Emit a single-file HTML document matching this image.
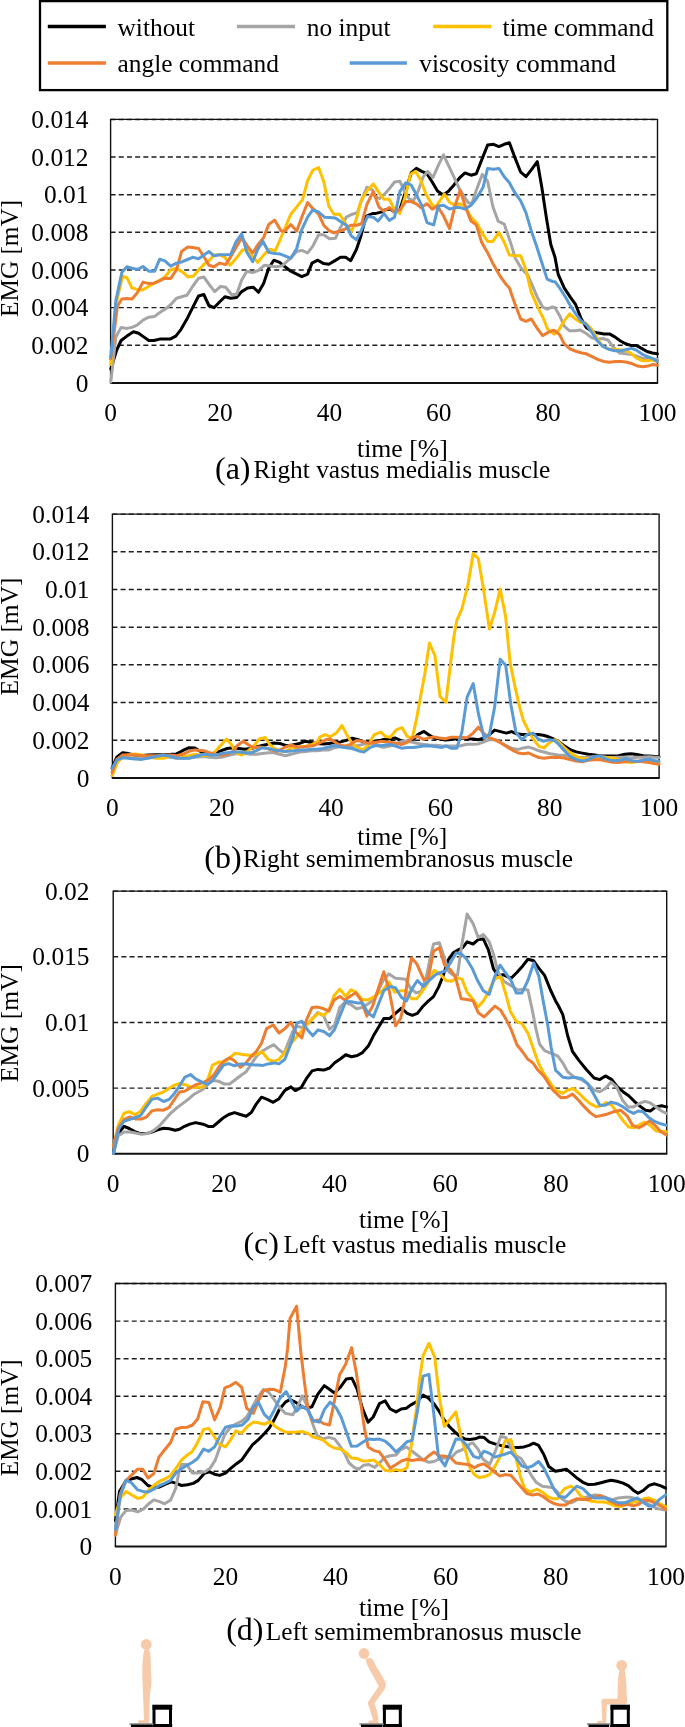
<!DOCTYPE html>
<html><head><meta charset="utf-8"><style>
html,body{margin:0;padding:0;background:#fff;}
svg{display:block;will-change:transform;}
svg text{font-family:"Liberation Serif", serif;font-size:25.4px;fill:#000;}
</style></head><body>
<svg width="685" height="1727" viewBox="0 0 685 1727">
<rect width="685" height="1727" fill="#fff"/>
<rect x="40" y="1.1" width="627.3" height="89" fill="none" stroke="#000" stroke-width="2.3"/>
<line x1="47.8" y1="26.5" x2="105.9" y2="26.5" stroke="#000000" stroke-width="3.5"/>
<text x="117.5" y="35.9">without</text>
<line x1="237" y1="26.5" x2="295" y2="26.5" stroke="#A5A5A5" stroke-width="3.5"/>
<text x="306.7" y="35.9">no input</text>
<line x1="433.2" y1="26.5" x2="491.4" y2="26.5" stroke="#FFC000" stroke-width="3.5"/>
<text x="502.4" y="35.9">time command</text>
<line x1="47.8" y1="63" x2="105.9" y2="63" stroke="#ED7D31" stroke-width="3.5"/>
<text x="117.5" y="71.5">angle command</text>
<line x1="349.7" y1="63" x2="406.9" y2="63" stroke="#5B9BD5" stroke-width="3.5"/>
<text x="419.2" y="71.5">viscosity command</text>
<line x1="110.6" y1="345.2" x2="657.5" y2="345.2" stroke="#1e1e1e" stroke-width="1.45" stroke-dasharray="5 3.18"/>
<line x1="110.6" y1="307.6" x2="657.5" y2="307.6" stroke="#1e1e1e" stroke-width="1.45" stroke-dasharray="5 3.18"/>
<line x1="110.6" y1="269.9" x2="657.5" y2="269.9" stroke="#1e1e1e" stroke-width="1.45" stroke-dasharray="5 3.18"/>
<line x1="110.6" y1="232.3" x2="657.5" y2="232.3" stroke="#1e1e1e" stroke-width="1.45" stroke-dasharray="5 3.18"/>
<line x1="110.6" y1="194.7" x2="657.5" y2="194.7" stroke="#1e1e1e" stroke-width="1.45" stroke-dasharray="5 3.18"/>
<line x1="110.6" y1="157.0" x2="657.5" y2="157.0" stroke="#1e1e1e" stroke-width="1.45" stroke-dasharray="5 3.18"/>
<line x1="110.6" y1="119.4" x2="657.5" y2="119.4" stroke="#1e1e1e" stroke-width="1.45" stroke-dasharray="5 3.18"/>
<path d="M110.6 382.9 V119.4 H657.5 V382.9" fill="none" stroke="#111" stroke-width="1.4"/>
<line x1="110.0" y1="382.9" x2="658.1" y2="382.9" stroke="#111" stroke-width="2"/>
<text x="88.5" y="391.5" text-anchor="end">0</text>
<text x="88.5" y="353.8" text-anchor="end">0.002</text>
<text x="88.5" y="316.2" text-anchor="end">0.004</text>
<text x="88.5" y="278.5" text-anchor="end">0.006</text>
<text x="88.5" y="240.9" text-anchor="end">0.008</text>
<text x="88.5" y="203.3" text-anchor="end">0.01</text>
<text x="88.5" y="165.6" text-anchor="end">0.012</text>
<text x="88.5" y="128.0" text-anchor="end">0.014</text>
<text x="110.6" y="421.2" text-anchor="middle">0</text>
<text x="220.0" y="421.2" text-anchor="middle">20</text>
<text x="329.4" y="421.2" text-anchor="middle">40</text>
<text x="438.7" y="421.2" text-anchor="middle">60</text>
<text x="548.1" y="421.2" text-anchor="middle">80</text>
<text x="657.5" y="421.2" text-anchor="middle">100</text>
<text transform="translate(17.5,258.4) rotate(-90)" text-anchor="middle" textLength="117.0" lengthAdjust="spacingAndGlyphs">EMG [mV]</text>
<g fill="none" stroke-width="3" stroke-linejoin="round" stroke-linecap="round">
<polyline stroke="#000000" points="110.8,369.0 116.7,350.0 121.1,340.5 126.9,336.1 133.5,331.8 138.6,333.2 143.7,336.9 148.8,340.5 153.9,340.5 159.7,339.1 164.9,339.1 170.0,339.1 175.8,336.1 180.9,329.6 186.8,319.3 192.6,307.7 198.6,296.0 203.8,294.5 208.9,305.5 214.0,307.7 219.8,301.8 224.9,296.7 230.8,298.2 236.6,297.4 241.7,291.6 247.6,288.0 253.4,287.2 258.5,292.3 263.6,283.6 268.7,268.2 273.8,260.2 279.7,262.4 285.0,266.8 290.8,271.2 296.7,274.1 301.8,276.7 307.6,274.1 312.0,263.1 317.8,260.2 323.7,263.6 328.8,264.3 334.6,260.9 340.5,257.3 345.6,257.3 350.7,260.7 356.5,249.3 360.9,236.1 366.0,216.4 372.6,213.5 375.0,213.6 381.0,212.1 385.5,209.8 390.1,209.1 394.6,212.1 399.8,209.8 405.1,193.3 411.1,172.9 416.4,168.4 421.7,171.4 427.0,173.7 432.2,182.0 437.5,191.0 442.8,194.8 448.0,191.7 453.3,185.7 459.3,178.2 465.0,172.9 471.0,175.2 476.3,173.7 481.6,160.1 487.6,145.1 493.6,144.3 498.9,146.6 504.2,144.3 509.4,142.8 514.7,157.1 520.7,172.2 526.0,176.7 531.3,169.9 537.3,161.6 541.8,187.2 546.3,217.3 550.8,244.5 555.0,257.2 558.1,274.1 564.2,287.9 570.3,297.1 575.7,304.7 581.1,318.5 586.4,327.7 592.6,331.6 598.7,333.1 604.0,333.9 609.4,333.9 614.8,336.9 620.1,340.8 625.5,343.8 630.9,345.4 636.2,345.4 641.6,348.4 647.0,351.5 652.3,353.0 657.4,353.8"/>
<polyline stroke="#A5A5A5" points="110.8,382.1 115.9,336.9 121.1,327.4 126.9,328.4 132.0,327.4 137.1,325.2 143.0,320.1 148.8,317.2 154.6,316.4 160.5,312.0 166.3,308.4 171.4,304.0 176.5,298.2 181.6,296.7 186.8,295.3 192.6,286.5 198.6,278.2 203.8,277.0 209.6,285.0 214.7,291.6 220.5,286.5 225.7,287.2 231.5,294.5 236.6,294.5 241.7,279.9 246.8,271.2 252.7,272.6 258.5,270.4 264.3,265.3 270.2,266.1 276.0,266.8 281.9,266.1 285.0,263.1 290.8,258.0 296.7,251.5 301.8,250.4 307.6,252.9 312.7,246.4 318.6,234.7 323.7,234.7 329.5,238.8 335.4,238.3 340.5,227.4 346.3,217.2 352.2,214.2 357.3,212.8 362.4,198.2 366.8,187.2 372.6,190.1 375.0,196.3 379.5,198.5 384.0,194.8 389.3,188.7 394.6,182.0 399.8,181.2 405.1,191.7 408.9,198.5 413.4,200.8 417.9,191.7 423.2,176.7 427.7,171.4 433.0,177.4 438.3,165.4 443.5,154.8 448.8,166.1 454.1,177.4 459.3,188.7 465.0,197.8 468.0,202.3 471.8,203.8 476.3,190.2 482.3,174.4 487.6,181.2 492.9,206.8 498.1,221.1 504.2,224.1 510.2,241.4 515.5,258.8 521.5,268.6 527.5,274.6 532.8,286.6 537.3,297.2 542.6,307.0 547.1,309.2 552.3,307.0 555.0,307.8 559.6,315.5 564.2,326.2 569.6,330.8 574.9,330.8 580.3,330.0 585.7,333.1 591.8,337.7 597.2,339.2 602.5,338.5 607.9,340.0 613.2,346.9 619.4,353.0 625.5,353.8 631.6,354.6 637.0,356.1 642.4,358.4 647.7,358.4 653.1,359.2 657.4,359.2"/>
<polyline stroke="#FFC000" points="110.8,364.6 115.9,304.7 122.5,276.3 126.9,277.7 132.0,288.0 137.1,289.4 142.2,290.1 147.3,287.2 153.2,283.6 159.0,280.7 164.9,277.0 170.7,269.7 176.5,268.2 182.4,271.9 188.2,277.0 193.3,276.3 199.4,269.0 204.5,263.9 209.6,260.2 214.0,255.1 219.8,254.8 224.9,257.3 230.0,265.3 235.9,258.8 242.4,250.0 246.8,249.3 252.7,256.6 257.8,262.4 263.6,255.1 269.5,249.3 275.3,250.7 279.7,240.5 285.0,228.1 290.8,214.2 296.7,206.9 302.5,199.6 307.6,180.7 312.7,170.4 318.6,167.5 323.7,181.4 328.8,206.2 333.9,214.2 339.7,214.2 345.6,223.7 351.4,231.8 356.5,218.6 360.9,201.1 366.8,190.9 373.3,183.9 379.5,193.3 384.0,199.3 389.3,199.3 394.6,209.8 399.8,213.6 405.1,197.0 410.4,174.4 415.7,171.4 420.9,180.5 426.2,194.8 431.5,203.8 435.2,207.6 439.8,200.8 444.3,194.0 449.5,202.3 454.8,205.3 460.1,203.8 465.0,206.8 471.0,217.3 477.0,223.4 482.3,233.2 487.6,241.4 492.9,241.4 498.9,232.4 504.2,242.2 509.4,255.0 514.7,255.8 520.7,255.8 526.0,270.1 531.3,292.7 538.0,307.7 543.3,318.3 547.8,329.5 554.4,334.3 558.8,330.0 564.2,320.8 569.6,313.9 574.9,318.5 580.3,322.4 585.7,323.1 591.8,329.3 597.2,338.5 602.5,346.1 608.6,349.2 614.8,349.2 620.9,350.0 626.3,350.7 631.6,353.8 637.0,358.4 642.4,360.7 647.7,360.7 653.1,359.9 657.4,361.5"/>
<polyline stroke="#ED7D31" points="110.8,358.8 117.4,306.2 121.8,298.9 126.9,298.6 132.0,298.9 137.1,293.1 143.0,282.1 148.8,283.6 153.2,283.6 159.0,281.1 164.9,278.2 170.7,278.5 176.5,269.7 181.6,251.5 187.5,247.1 192.6,247.5 198.6,248.5 203.8,256.6 208.9,265.3 214.0,266.8 219.8,263.1 225.7,264.6 230.8,256.6 236.6,246.4 241.7,237.6 247.6,246.4 252.7,252.9 257.8,244.9 263.6,237.6 268.7,224.5 274.6,220.1 281.1,231.0 285.0,231.0 290.8,224.5 296.7,231.0 301.8,217.2 307.6,202.6 312.7,208.4 318.6,214.2 323.7,225.2 328.8,230.3 333.9,232.9 339.7,231.0 345.6,228.8 350.7,225.2 356.5,225.2 361.6,223.7 366.8,204.7 373.3,191.6 378.8,206.8 384.0,211.3 389.3,207.6 394.6,212.1 399.8,209.8 405.9,201.5 411.1,201.5 416.4,203.8 420.9,207.6 427.0,203.8 432.2,209.1 437.5,206.1 443.5,215.8 449.5,228.6 454.8,206.8 460.1,190.2 465.0,205.3 468.0,213.6 471.0,221.1 476.3,224.9 481.6,242.2 487.6,252.7 493.6,264.8 499.6,275.3 504.9,282.9 509.4,288.1 514.7,303.2 520.7,319.0 526.0,321.3 531.3,319.0 536.5,327.3 542.6,335.6 547.8,332.6 553.1,330.3 555.0,330.8 559.6,334.6 564.2,343.8 570.3,349.2 576.5,351.5 581.8,353.0 586.4,353.8 592.6,356.9 598.7,359.9 604.0,361.5 609.4,362.2 615.5,361.5 621.7,361.5 627.0,362.2 632.4,363.8 637.8,366.1 642.4,366.8 647.7,366.1 653.1,364.5 657.4,365.3"/>
<polyline stroke="#5B9BD5" points="110.8,357.3 115.9,300.4 121.8,272.6 126.9,266.8 132.0,268.2 137.8,269.4 143.0,266.5 148.8,271.2 154.6,271.2 159.7,259.2 164.9,260.9 170.7,266.1 176.5,263.1 182.4,261.7 187.5,259.5 192.6,257.3 198.6,258.8 203.8,255.1 208.9,251.5 214.0,255.8 219.8,254.8 224.9,254.7 230.8,254.4 235.9,242.0 241.7,233.9 246.8,252.2 252.7,261.7 257.8,249.3 262.9,241.2 268.7,252.2 274.6,253.6 280.4,254.1 285.0,255.8 290.8,258.3 296.7,248.5 301.8,229.6 307.6,217.2 312.7,209.9 318.6,212.0 324.4,217.2 329.5,217.4 335.4,217.9 340.5,221.5 346.3,225.2 351.4,236.1 356.5,239.8 361.6,229.6 367.5,216.4 373.3,217.2 378.0,221.1 384.0,213.6 389.3,220.4 394.6,217.3 399.8,191.7 405.9,182.7 411.1,185.0 415.7,193.3 421.7,205.3 427.0,222.6 433.7,224.9 438.3,206.1 443.5,205.3 449.5,209.1 454.8,207.6 460.1,207.6 465.0,209.1 471.0,205.3 477.0,197.8 483.1,187.2 487.6,168.4 493.6,169.2 498.9,168.4 504.2,176.7 509.4,182.7 514.7,192.5 520.7,200.8 526.0,212.8 531.3,230.9 536.5,246.0 541.8,262.5 547.1,279.1 552.3,281.4 555.0,281.7 559.6,287.9 565.0,296.3 570.3,305.5 575.7,313.9 581.1,320.8 586.4,324.7 591.8,332.3 597.2,340.8 602.5,346.1 608.6,349.2 614.8,350.7 620.9,350.7 626.3,349.5 631.6,348.4 636.2,350.0 641.6,353.8 647.0,356.5 652.3,358.4 657.4,361.5"/>
</g>
<text x="357.0" y="457.3" textLength="90.7" lengthAdjust="spacingAndGlyphs">time [%]</text>
<text x="215.0" y="478.7" style="font-size:32px">(a)</text>
<text x="253.4" y="478.4">Right vastus medialis muscle</text>
<line x1="112.4" y1="740.2" x2="659.1" y2="740.2" stroke="#1e1e1e" stroke-width="1.45" stroke-dasharray="5 3.18"/>
<line x1="112.4" y1="702.5" x2="659.1" y2="702.5" stroke="#1e1e1e" stroke-width="1.45" stroke-dasharray="5 3.18"/>
<line x1="112.4" y1="664.8" x2="659.1" y2="664.8" stroke="#1e1e1e" stroke-width="1.45" stroke-dasharray="5 3.18"/>
<line x1="112.4" y1="627.2" x2="659.1" y2="627.2" stroke="#1e1e1e" stroke-width="1.45" stroke-dasharray="5 3.18"/>
<line x1="112.4" y1="589.5" x2="659.1" y2="589.5" stroke="#1e1e1e" stroke-width="1.45" stroke-dasharray="5 3.18"/>
<line x1="112.4" y1="551.8" x2="659.1" y2="551.8" stroke="#1e1e1e" stroke-width="1.45" stroke-dasharray="5 3.18"/>
<line x1="112.4" y1="514.1" x2="659.1" y2="514.1" stroke="#1e1e1e" stroke-width="1.45" stroke-dasharray="5 3.18"/>
<path d="M112.4 777.9 V514.1 H659.1 V777.9" fill="none" stroke="#111" stroke-width="1.4"/>
<line x1="111.8" y1="777.9" x2="659.7" y2="777.9" stroke="#111" stroke-width="2"/>
<text x="89.5" y="786.5" text-anchor="end">0</text>
<text x="89.5" y="748.8" text-anchor="end">0.002</text>
<text x="89.5" y="711.1" text-anchor="end">0.004</text>
<text x="89.5" y="673.4" text-anchor="end">0.006</text>
<text x="89.5" y="635.8" text-anchor="end">0.008</text>
<text x="89.5" y="598.1" text-anchor="end">0.01</text>
<text x="89.5" y="560.4" text-anchor="end">0.012</text>
<text x="89.5" y="522.7" text-anchor="end">0.014</text>
<text x="112.4" y="815.7" text-anchor="middle">0</text>
<text x="221.7" y="815.7" text-anchor="middle">20</text>
<text x="331.1" y="815.7" text-anchor="middle">40</text>
<text x="440.4" y="815.7" text-anchor="middle">60</text>
<text x="549.8" y="815.7" text-anchor="middle">80</text>
<text x="659.1" y="815.7" text-anchor="middle">100</text>
<text transform="translate(17.5,636.5) rotate(-90)" text-anchor="middle" textLength="117.9" lengthAdjust="spacingAndGlyphs">EMG [mV]</text>
<g fill="none" stroke-width="3" stroke-linejoin="round" stroke-linecap="round">
<polyline stroke="#000000" points="112.1,768.2 116.8,757.2 122.6,752.8 128.4,753.6 135.0,755.0 141.6,755.5 148.9,755.0 156.2,754.7 163.5,754.6 170.8,754.3 176.6,753.9 182.5,750.7 189.0,747.7 194.9,748.0 203.8,753.6 209.7,754.3 215.5,752.8 221.4,750.7 227.2,748.5 233.0,747.7 238.9,748.5 244.7,749.2 250.6,748.5 256.4,747.0 262.2,745.5 268.1,744.1 273.9,743.1 279.8,743.4 285.6,745.5 290.9,745.5 293.8,744.8 299.7,743.4 305.5,741.2 311.4,742.6 317.2,743.4 323.0,744.1 328.9,743.4 334.7,742.6 340.6,741.9 346.4,740.4 352.2,738.2 358.1,739.7 363.9,741.9 369.8,742.6 375.6,741.2 380.9,740.1 383.8,739.4 389.7,738.7 395.5,738.0 401.4,740.9 407.2,741.6 413.0,740.1 418.1,734.3 424.0,731.4 429.1,735.0 434.2,738.0 439.3,738.7 445.2,740.1 451.0,739.4 456.8,738.7 462.7,738.0 467.5,738.8 473.2,739.0 478.3,739.7 483.5,738.3 489.4,734.6 494.6,730.1 500.5,731.6 506.4,733.1 511.6,731.6 516.7,733.8 521.9,734.6 527.1,734.6 533.0,734.6 538.2,734.6 543.3,735.3 548.5,736.8 553.7,739.0 558.0,741.3 564.1,745.8 570.1,749.6 576.2,751.9 582.3,753.1 588.4,754.2 594.4,754.9 600.5,755.7 606.6,756.1 612.7,756.1 618.7,755.7 624.8,754.2 630.9,753.7 636.9,754.6 643.0,755.7 649.1,756.1 655.2,756.4 659.0,756.7"/>
<polyline stroke="#A5A5A5" points="112.1,775.5 116.8,762.3 122.6,757.2 128.4,757.7 135.0,758.2 141.6,758.2 148.9,757.7 156.2,757.2 163.5,756.5 170.8,757.2 176.6,758.2 182.5,758.2 189.0,758.0 194.9,757.2 203.8,756.5 209.7,757.2 215.5,757.7 221.4,757.2 227.2,755.8 233.0,754.3 238.9,753.6 244.7,753.6 250.6,754.3 256.4,754.3 262.2,753.6 268.1,752.8 273.9,752.8 279.8,754.3 285.6,755.8 290.9,754.3 293.8,753.6 299.7,752.1 305.5,751.4 311.4,750.7 317.2,750.7 323.0,749.9 328.9,749.9 334.7,747.7 340.6,746.3 346.4,746.3 352.2,746.3 358.1,745.5 363.9,744.1 369.8,743.4 375.6,744.1 380.9,746.7 383.8,747.4 389.7,746.0 395.5,743.8 401.4,741.6 407.2,741.6 413.0,742.3 418.9,743.8 424.7,744.5 430.6,745.3 436.4,745.3 442.2,746.0 448.1,746.0 453.9,746.0 459.8,746.0 465.6,744.5 468.0,744.2 473.2,744.2 478.3,743.9 483.5,742.0 489.4,739.7 495.3,739.7 501.2,742.7 506.4,745.7 512.3,748.6 518.2,749.4 523.4,747.9 528.6,747.1 533.7,748.6 538.9,750.8 544.8,752.3 550.0,753.8 555.1,754.5 558.0,754.9 564.1,755.2 570.1,756.4 576.2,757.2 582.3,757.6 588.4,757.2 594.4,756.4 600.5,756.4 606.6,757.2 612.7,757.6 618.7,757.2 624.8,757.2 630.9,758.0 636.9,757.2 643.0,757.2 649.1,756.7 655.2,757.2 659.0,757.6"/>
<polyline stroke="#FFC000" points="112.1,775.5 117.5,762.3 122.6,757.2 128.4,755.0 135.0,753.9 141.6,755.0 148.9,757.2 156.2,758.2 163.5,758.2 170.8,755.8 176.6,756.5 182.5,756.5 189.0,755.8 194.9,754.3 203.8,755.8 209.7,755.0 214.1,752.8 219.9,746.3 226.5,739.0 231.6,744.8 236.0,752.8 241.8,755.0 247.6,751.4 253.5,746.3 259.3,739.0 265.2,737.5 269.5,744.1 273.9,748.5 279.8,750.7 285.6,751.4 290.9,748.0 293.8,747.7 299.7,747.0 305.5,746.3 311.4,744.8 317.2,741.9 320.1,736.8 325.2,734.6 330.3,736.8 336.2,733.1 342.0,725.5 346.4,733.9 350.8,741.2 355.2,746.3 362.5,749.9 368.3,745.5 374.1,734.6 380.9,732.1 385.3,736.5 390.4,737.2 396.2,729.9 402.1,727.7 407.2,736.5 412.3,738.0 416.7,718.2 421.1,693.4 424.7,674.5 429.4,643.1 434.9,655.5 440.0,696.4 445.9,702.2 450.3,665.7 453.9,636.5 456.8,620.4 461.9,608.8 464.1,600.0 468.0,584.7 473.2,553.6 478.3,558.8 483.5,589.1 489.4,629.0 494.6,612.7 500.2,589.1 505.7,617.1 510.1,662.9 515.3,688.1 519.7,707.3 523.4,720.5 528.6,730.9 533.7,739.7 538.9,746.4 544.1,747.9 549.2,742.7 554.4,739.7 558.0,741.3 564.1,747.3 570.1,752.6 576.2,756.4 582.3,758.7 588.4,758.7 594.4,759.5 600.5,758.3 606.6,757.6 612.7,758.0 618.7,759.5 624.8,761.7 630.9,762.5 636.9,761.7 643.0,760.2 649.1,761.0 655.2,761.7 659.0,762.5"/>
<polyline stroke="#ED7D31" points="112.1,772.6 116.8,759.4 122.6,755.0 128.4,754.7 135.0,755.0 141.6,755.8 148.9,755.8 156.2,755.8 163.5,755.0 170.8,755.0 176.6,755.8 182.5,754.3 189.0,751.4 194.9,749.9 203.8,750.7 209.7,752.8 215.5,754.3 221.4,755.0 227.2,754.3 233.0,751.4 237.4,745.5 243.3,741.2 248.4,744.8 253.5,747.7 259.3,747.0 265.2,747.7 271.0,749.9 276.8,751.4 282.7,748.5 285.6,747.0 290.9,744.8 296.8,747.0 302.6,747.0 308.4,746.3 314.3,745.5 320.1,742.6 326.0,739.7 330.3,739.0 334.7,741.9 339.1,744.8 344.9,746.3 350.8,744.1 356.6,740.4 362.5,741.2 368.3,743.4 374.1,742.6 380.9,741.6 383.8,741.6 389.7,742.3 395.5,743.1 401.4,744.5 407.2,742.3 413.0,737.2 418.1,736.5 423.3,739.4 428.4,738.0 434.2,736.9 439.3,738.0 445.2,738.7 451.0,737.2 456.8,737.2 462.7,738.0 467.5,737.4 473.2,733.1 478.3,727.2 483.5,733.1 488.7,737.5 494.6,739.7 500.5,742.7 506.4,746.4 512.3,750.1 518.2,753.0 523.4,753.8 528.6,753.0 533.7,755.3 538.9,757.5 544.1,758.2 549.2,757.5 555.1,757.5 558.0,757.2 564.1,758.0 570.1,759.5 576.2,761.0 582.3,761.7 588.4,760.2 594.4,759.8 600.5,759.8 606.6,761.0 612.7,762.2 618.7,762.5 624.8,761.7 630.9,761.0 636.9,761.3 643.0,761.7 649.1,762.5 655.2,763.7 659.0,764.3"/>
<polyline stroke="#5B9BD5" points="112.1,768.2 116.8,760.1 122.6,757.7 128.4,758.2 135.0,759.1 141.6,759.4 148.9,758.0 156.2,756.5 163.5,755.0 170.8,756.5 176.6,758.0 182.5,758.2 189.0,758.2 194.9,756.5 203.8,754.3 209.7,755.0 215.5,755.0 221.4,753.6 227.2,752.8 233.0,752.1 238.9,752.1 244.7,752.8 250.6,752.8 256.4,750.7 262.2,747.7 268.1,748.5 273.9,749.9 279.8,750.7 285.6,751.4 290.9,750.9 293.8,750.7 299.7,749.9 305.5,749.9 311.4,749.2 317.2,749.2 323.0,748.5 328.9,747.0 334.7,745.5 340.6,747.0 346.4,747.7 352.2,748.5 358.1,750.7 363.9,752.1 369.8,747.7 375.6,745.5 380.9,745.7 383.8,745.3 389.7,744.5 395.5,746.0 401.4,748.2 407.2,747.4 413.0,747.4 418.9,746.7 424.7,745.7 430.6,746.0 436.4,746.7 442.2,747.4 445.9,746.0 451.0,748.2 456.8,748.2 461.9,732.1 467.1,697.1 473.2,683.6 478.3,713.2 484.2,738.3 489.4,734.6 494.6,707.3 500.2,659.2 505.7,665.2 510.8,704.3 516.0,732.4 521.9,739.7 527.1,734.6 533.0,733.1 538.2,739.0 543.3,741.2 549.2,739.7 554.4,740.5 558.0,743.5 564.1,750.4 570.1,756.4 576.2,759.8 582.3,761.0 588.4,759.8 594.4,756.4 599.0,755.7 603.5,758.0 609.6,760.2 615.7,760.7 621.8,759.8 626.3,758.7 632.4,761.0 638.5,761.3 644.5,759.8 649.1,759.2 655.2,760.7 659.0,761.3"/>
</g>
<text x="357.3" y="845.4" textLength="89.9" lengthAdjust="spacingAndGlyphs">time [%]</text>
<text x="204.3" y="867.5" style="font-size:32px">(b)</text>
<text x="243.0" y="867.0">Right semimembranosus muscle</text>
<line x1="113.2" y1="1088.1" x2="666.7" y2="1088.1" stroke="#1e1e1e" stroke-width="1.45" stroke-dasharray="5 3.18"/>
<line x1="113.2" y1="1022.5" x2="666.7" y2="1022.5" stroke="#1e1e1e" stroke-width="1.45" stroke-dasharray="5 3.18"/>
<line x1="113.2" y1="956.8" x2="666.7" y2="956.8" stroke="#1e1e1e" stroke-width="1.45" stroke-dasharray="5 3.18"/>
<line x1="113.2" y1="891.1" x2="666.7" y2="891.1" stroke="#1e1e1e" stroke-width="1.45" stroke-dasharray="5 3.18"/>
<path d="M113.2 1153.8 V891.1 H666.7 V1153.8" fill="none" stroke="#111" stroke-width="1.4"/>
<line x1="112.6" y1="1153.8" x2="667.3" y2="1153.8" stroke="#111" stroke-width="2"/>
<text x="89.5" y="1162.4" text-anchor="end">0</text>
<text x="89.5" y="1096.7" text-anchor="end">0.005</text>
<text x="89.5" y="1031.0" text-anchor="end">0.01</text>
<text x="89.5" y="965.4" text-anchor="end">0.015</text>
<text x="89.5" y="899.7" text-anchor="end">0.02</text>
<text x="113.2" y="1192.3" text-anchor="middle">0</text>
<text x="223.9" y="1192.3" text-anchor="middle">20</text>
<text x="334.6" y="1192.3" text-anchor="middle">40</text>
<text x="445.3" y="1192.3" text-anchor="middle">60</text>
<text x="556.0" y="1192.3" text-anchor="middle">80</text>
<text x="666.7" y="1192.3" text-anchor="middle">100</text>
<text transform="translate(17.5,1023.1) rotate(-90)" text-anchor="middle" textLength="118.1" lengthAdjust="spacingAndGlyphs">EMG [mV]</text>
<g fill="none" stroke-width="3" stroke-linejoin="round" stroke-linecap="round">
<polyline stroke="#000000" points="113.5,1153.3 117.5,1134.3 124.1,1126.3 129.2,1128.5 134.3,1131.4 140.1,1133.6 146.0,1133.6 151.8,1132.1 157.6,1129.9 163.5,1128.2 169.3,1128.8 175.2,1130.2 179.5,1129.2 184.6,1126.3 189.8,1124.1 195.6,1122.6 203.1,1124.2 208.2,1126.4 213.3,1126.4 218.4,1122.0 223.5,1117.7 228.7,1114.5 234.5,1112.6 240.3,1114.5 246.2,1116.2 251.3,1112.6 256.4,1103.8 261.5,1097.2 267.3,1099.4 273.2,1102.3 279.0,1098.7 284.9,1090.4 290.9,1086.9 295.3,1090.6 301.1,1087.7 306.2,1078.9 312.1,1070.9 317.9,1069.4 323.8,1070.1 329.6,1068.0 334.7,1062.8 340.6,1058.8 345.7,1054.8 351.5,1056.7 357.3,1055.5 362.5,1052.6 368.3,1046.1 373.4,1035.8 383.8,1018.5 389.7,1018.5 395.5,1013.4 401.4,1008.2 407.2,1013.4 412.3,1015.3 417.4,1013.4 422.5,1006.8 427.6,1001.7 433.5,996.6 438.6,987.1 443.0,976.1 448.1,960.1 453.2,952.8 458.3,949.9 462.7,947.7 467.1,941.8 473.1,944.0 478.2,939.6 483.3,938.9 488.4,949.9 493.5,968.8 497.9,975.4 503.0,974.7 511.1,978.3 516.9,972.5 522.7,965.9 527.9,959.3 533.7,960.8 538.8,968.1 544.6,975.4 550.5,990.0 555.6,1000.9 558.0,1005.0 562.8,1014.6 567.6,1035.5 572.5,1051.5 578.9,1060.4 586.1,1069.2 594.1,1078.0 599.8,1079.6 605.4,1075.9 611.8,1079.6 617.4,1086.9 623.0,1091.7 628.7,1095.7 634.3,1101.3 639.9,1106.1 645.5,1110.2 650.3,1111.0 656.0,1106.9 661.6,1105.8 666.4,1106.9"/>
<polyline stroke="#A5A5A5" points="113.5,1153.3 118.2,1135.8 124.1,1132.1 129.9,1132.1 135.7,1133.1 141.6,1134.3 147.4,1133.6 153.3,1130.7 159.1,1126.3 164.9,1119.7 170.8,1113.1 176.6,1108.0 182.5,1103.6 188.3,1099.3 194.1,1094.2 203.1,1089.2 208.2,1084.1 213.3,1080.4 218.4,1081.2 224.3,1084.1 229.4,1084.1 235.2,1079.7 241.1,1075.3 246.2,1071.7 250.6,1065.1 256.4,1056.4 262.2,1051.2 268.1,1047.6 273.9,1044.7 279.0,1049.8 284.1,1053.4 292.4,1032.2 296.8,1026.4 302.6,1027.5 308.4,1023.4 313.5,1017.6 317.9,1012.5 323.8,1016.1 329.6,1029.3 334.7,1024.9 339.8,1007.4 344.9,1002.3 350.8,1004.5 356.6,1008.8 362.5,1007.4 368.3,1003.7 374.1,999.3 383.1,980.5 388.9,973.9 395.5,978.3 401.4,978.8 405.7,979.3 410.1,987.8 416.0,992.9 421.1,991.5 426.2,977.6 429.8,960.1 433.5,944.0 439.3,942.8 443.7,955.7 448.8,971.8 453.9,975.4 457.6,974.7 461.2,948.4 467.1,914.1 473.1,923.6 478.2,937.4 483.3,934.5 489.2,941.8 493.5,954.2 497.9,971.8 503.8,981.2 511.1,985.6 517.6,990.0 523.5,989.3 527.9,990.0 532.2,1009.7 535.9,1028.7 539.5,1044.0 544.6,1050.6 549.8,1052.8 555.6,1055.0 558.0,1056.4 562.8,1062.8 567.6,1071.6 574.1,1077.2 581.3,1079.6 587.7,1083.7 594.1,1090.1 599.8,1091.7 605.4,1088.5 611.0,1082.0 616.6,1086.9 622.2,1099.7 627.9,1106.9 633.5,1106.9 639.1,1103.7 644.7,1101.3 650.3,1102.9 656.0,1106.9 661.6,1111.0 666.4,1113.4"/>
<polyline stroke="#FFC000" points="113.5,1146.0 118.2,1125.5 124.1,1113.1 129.2,1111.7 135.0,1114.6 140.1,1111.7 146.0,1103.6 151.8,1096.4 157.6,1094.2 163.5,1092.0 169.3,1088.3 174.4,1085.1 179.5,1083.5 185.4,1084.7 190.5,1086.9 195.6,1087.6 203.1,1087.0 208.2,1078.2 212.6,1065.1 219.2,1061.9 225.0,1062.2 230.1,1057.5 235.2,1053.1 241.1,1054.2 246.9,1054.9 252.7,1055.6 257.9,1053.7 262.2,1052.0 268.1,1059.3 273.2,1061.5 279.0,1059.3 284.1,1053.4 293.1,1040.9 298.2,1035.1 304.1,1027.8 309.2,1022.0 313.5,1017.6 318.7,1013.2 323.8,1015.4 328.9,1010.3 334.0,995.7 339.8,989.1 345.7,996.4 350.8,989.9 355.9,992.0 361.7,999.3 367.6,1000.1 373.4,997.2 383.1,990.0 388.9,982.0 394.8,992.2 400.6,990.7 406.5,990.7 411.6,998.8 416.7,998.8 421.8,992.2 427.6,983.4 434.2,970.3 440.8,974.7 445.9,980.5 451.7,981.2 456.8,977.6 461.9,979.1 467.1,992.2 473.1,999.5 478.2,1006.8 483.3,1000.9 488.4,992.2 493.5,981.2 497.2,977.3 500.8,977.6 505.2,992.2 510.3,1011.2 516.2,1021.4 522.0,1023.6 527.9,1033.1 533.0,1047.7 538.1,1062.3 543.2,1072.5 548.3,1079.8 551.9,1085.6 555.6,1090.0 562.8,1093.3 567.6,1090.1 573.3,1088.5 578.9,1093.3 584.5,1098.9 590.1,1103.7 596.5,1106.9 602.2,1105.3 606.2,1102.6 611.8,1105.3 617.4,1112.6 623.0,1120.6 628.7,1127.0 634.3,1127.8 639.9,1124.6 644.7,1122.2 650.3,1125.4 656.0,1131.0 666.4,1131.8"/>
<polyline stroke="#ED7D31" points="113.5,1146.0 118.2,1128.5 124.1,1119.7 129.9,1116.8 135.7,1119.0 141.6,1119.0 146.7,1116.8 151.8,1110.9 157.6,1109.8 163.5,1110.2 169.3,1107.3 174.4,1099.3 179.5,1092.0 184.6,1091.2 189.8,1088.3 195.6,1084.7 203.1,1082.6 208.9,1079.7 214.1,1074.6 219.2,1066.6 224.3,1060.7 229.4,1057.8 234.5,1060.7 240.3,1067.3 245.4,1063.6 250.6,1057.1 256.4,1051.2 261.5,1043.2 266.6,1028.6 273.2,1025.0 279.0,1033.0 284.9,1028.6 290.9,1022.3 296.0,1032.2 301.9,1038.0 306.2,1020.5 312.1,1007.4 317.9,1007.1 323.8,1008.8 328.9,1011.0 334.0,1000.1 339.8,996.4 344.9,1000.1 350.8,995.7 355.9,992.8 361.0,1000.1 366.8,1016.1 372.7,1005.9 383.8,971.8 388.9,989.3 392.6,1008.2 395.5,1025.8 400.6,1018.5 404.3,1002.4 407.9,977.6 411.6,957.9 416.7,963.7 420.3,971.8 424.0,979.8 428.4,977.6 433.5,951.3 439.3,947.7 444.4,964.5 450.3,969.6 455.4,976.9 461.2,998.8 467.1,999.5 473.1,1000.9 478.2,1012.6 484.1,1017.0 489.2,1011.9 495.0,1006.1 500.8,1010.4 506.0,1019.2 511.1,1029.4 516.9,1044.7 522.7,1052.0 527.9,1059.3 533.0,1063.0 538.1,1070.3 543.9,1076.1 549.0,1084.2 552.7,1090.0 561.2,1097.8 566.8,1097.3 572.5,1094.1 578.1,1099.7 584.5,1106.9 590.1,1112.6 595.7,1116.6 601.4,1115.5 607.0,1114.2 613.4,1111.8 620.6,1110.2 627.1,1115.8 632.7,1125.4 639.1,1127.8 644.7,1124.6 649.5,1120.9 655.2,1125.4 660.8,1131.8 666.4,1135.0"/>
<polyline stroke="#5B9BD5" points="113.5,1153.3 118.9,1128.5 124.1,1121.2 129.9,1119.4 135.7,1117.5 140.8,1115.3 146.0,1107.3 151.8,1099.3 157.6,1098.1 163.5,1101.5 169.3,1099.3 174.4,1093.4 179.5,1086.1 184.6,1077.4 190.5,1074.5 195.6,1078.8 203.1,1082.6 207.5,1084.4 212.6,1080.4 218.4,1072.4 223.5,1065.1 228.7,1063.6 234.5,1065.8 240.3,1063.9 246.2,1063.9 252.0,1064.8 257.9,1065.1 263.0,1065.4 268.1,1063.9 273.9,1062.9 279.0,1063.9 284.9,1059.3 292.4,1039.5 296.8,1023.4 301.9,1021.2 307.0,1029.3 312.8,1035.8 317.9,1030.0 323.8,1031.5 329.6,1035.8 334.7,1029.3 339.8,1016.1 345.7,1001.5 351.5,1001.8 357.3,1003.0 362.5,1003.0 367.6,1012.5 373.4,1016.9 383.8,990.7 390.4,986.4 395.5,987.8 401.4,997.3 406.5,1000.9 411.6,989.3 417.4,980.5 423.3,986.4 429.1,980.5 435.7,974.7 440.8,972.5 445.2,971.0 450.3,963.0 456.1,953.1 461.2,953.8 466.3,958.6 472.4,968.8 477.5,980.5 483.3,990.7 489.2,994.4 494.3,977.6 500.1,965.2 505.2,972.5 511.1,980.5 516.2,992.9 522.0,992.9 527.9,980.5 533.7,963.0 538.8,976.1 543.2,1000.9 547.6,1024.3 551.2,1047.7 555.6,1070.3 558.0,1072.4 562.8,1077.2 568.4,1078.0 574.1,1077.2 582.1,1078.8 587.7,1083.7 593.3,1093.3 599.8,1105.3 605.4,1105.3 611.0,1102.1 617.4,1103.7 623.0,1106.9 628.7,1111.0 633.5,1113.4 638.3,1111.0 643.1,1111.8 648.7,1117.4 654.4,1121.4 660.8,1123.8 666.4,1125.4"/>
</g>
<text x="358.9" y="1228.4" textLength="90.2" lengthAdjust="spacingAndGlyphs">time [%]</text>
<text x="243.4" y="1253.8" style="font-size:32px">(c)</text>
<text x="283.4" y="1253.4">Left vastus medialis muscle</text>
<line x1="115.4" y1="1508.9" x2="666.0" y2="1508.9" stroke="#1e1e1e" stroke-width="1.45" stroke-dasharray="5 3.18"/>
<line x1="115.4" y1="1471.3" x2="666.0" y2="1471.3" stroke="#1e1e1e" stroke-width="1.45" stroke-dasharray="5 3.18"/>
<line x1="115.4" y1="1433.8" x2="666.0" y2="1433.8" stroke="#1e1e1e" stroke-width="1.45" stroke-dasharray="5 3.18"/>
<line x1="115.4" y1="1396.2" x2="666.0" y2="1396.2" stroke="#1e1e1e" stroke-width="1.45" stroke-dasharray="5 3.18"/>
<line x1="115.4" y1="1358.7" x2="666.0" y2="1358.7" stroke="#1e1e1e" stroke-width="1.45" stroke-dasharray="5 3.18"/>
<line x1="115.4" y1="1321.1" x2="666.0" y2="1321.1" stroke="#1e1e1e" stroke-width="1.45" stroke-dasharray="5 3.18"/>
<line x1="115.4" y1="1283.5" x2="666.0" y2="1283.5" stroke="#1e1e1e" stroke-width="1.45" stroke-dasharray="5 3.18"/>
<path d="M115.4 1546.4 V1283.5 H666.0 V1546.4" fill="none" stroke="#111" stroke-width="1.4"/>
<line x1="114.8" y1="1546.4" x2="666.6" y2="1546.4" stroke="#111" stroke-width="2"/>
<text x="92.3" y="1555.0" text-anchor="end">0</text>
<text x="92.3" y="1517.5" text-anchor="end">0.001</text>
<text x="92.3" y="1479.9" text-anchor="end">0.002</text>
<text x="92.3" y="1442.3" text-anchor="end">0.003</text>
<text x="92.3" y="1404.8" text-anchor="end">0.004</text>
<text x="92.3" y="1367.2" text-anchor="end">0.005</text>
<text x="92.3" y="1329.7" text-anchor="end">0.006</text>
<text x="92.3" y="1292.1" text-anchor="end">0.007</text>
<text x="115.4" y="1585.0" text-anchor="middle">0</text>
<text x="225.5" y="1585.0" text-anchor="middle">20</text>
<text x="335.6" y="1585.0" text-anchor="middle">40</text>
<text x="445.7" y="1585.0" text-anchor="middle">60</text>
<text x="555.8" y="1585.0" text-anchor="middle">80</text>
<text x="666.0" y="1585.0" text-anchor="middle">100</text>
<text transform="translate(17.5,1417.8) rotate(-90)" text-anchor="middle" textLength="116.8" lengthAdjust="spacingAndGlyphs">EMG [mV]</text>
<g fill="none" stroke-width="3" stroke-linejoin="round" stroke-linecap="round">
<polyline stroke="#000000" points="115.5,1520.6 119.5,1491.4 126.1,1480.4 131.2,1479.0 137.0,1477.5 142.1,1479.7 148.0,1485.5 153.8,1487.7 159.6,1487.0 165.5,1484.1 171.3,1481.9 176.4,1483.4 181.5,1485.5 187.4,1484.8 193.2,1483.4 198.3,1480.4 204.4,1473.2 209.5,1471.8 214.6,1474.2 219.7,1475.4 225.5,1473.2 230.7,1468.4 236.5,1463.7 241.6,1460.1 246.7,1452.8 252.6,1444.7 258.4,1439.6 264.2,1433.8 269.3,1428.0 274.5,1419.2 279.6,1409.0 285.4,1402.1 290.0,1399.5 295.8,1402.4 301.7,1406.8 306.8,1408.2 311.9,1406.8 317.7,1394.4 324.3,1385.6 329.4,1389.3 334.5,1392.9 340.4,1387.1 346.2,1379.1 352.0,1378.3 357.2,1389.3 362.3,1408.2 368.1,1422.1 373.2,1417.0 379.5,1403.5 385.1,1400.9 390.2,1409.0 396.1,1411.9 401.2,1409.0 406.3,1408.2 411.4,1404.6 416.5,1401.7 423.1,1395.1 428.2,1398.0 434.0,1403.9 439.1,1411.2 444.2,1419.9 449.3,1426.5 454.5,1431.6 459.6,1436.0 464.7,1438.9 469.5,1439.6 475.1,1438.8 479.5,1437.1 483.9,1437.4 489.0,1441.8 494.8,1443.9 500.7,1445.4 506.5,1446.4 512.3,1447.3 518.2,1447.6 524.0,1446.9 529.1,1445.4 533.5,1443.2 538.6,1445.4 543.7,1454.2 548.8,1466.6 555.4,1471.2 560.0,1470.4 566.3,1469.2 571.8,1473.6 577.3,1478.3 582.9,1482.3 588.4,1484.6 594.7,1484.3 601.0,1482.7 606.5,1481.2 611.2,1480.2 616.8,1481.2 623.1,1483.1 628.6,1485.9 633.3,1490.2 638.0,1493.3 643.6,1490.2 649.1,1485.4 654.6,1483.8 660.9,1485.9 665.6,1488.1"/>
<polyline stroke="#A5A5A5" points="115.5,1533.7 120.9,1516.9 126.1,1510.4 131.9,1510.1 137.7,1511.8 143.6,1508.9 148.7,1503.8 153.8,1499.9 159.6,1501.6 164.7,1503.8 170.6,1500.1 175.7,1488.5 178.6,1473.9 181.5,1464.4 186.6,1464.4 192.5,1473.1 197.6,1473.1 205.1,1471.8 210.2,1468.1 215.3,1460.1 219.7,1447.7 224.8,1434.5 229.9,1428.0 235.8,1424.0 241.6,1421.4 246.7,1417.0 251.8,1408.2 257.7,1397.3 263.5,1389.3 268.6,1392.2 273.7,1398.8 279.6,1407.5 285.4,1413.4 292.9,1414.8 297.3,1406.8 302.4,1395.8 307.5,1406.8 313.4,1425.8 317.0,1435.3 322.8,1438.9 328.7,1437.4 334.5,1438.9 339.6,1445.5 344.7,1453.5 349.1,1463.0 354.2,1467.4 358.6,1469.3 363.7,1465.2 368.8,1464.5 374.7,1467.4 380.0,1462.3 385.1,1457.2 390.2,1455.7 396.1,1455.0 400.4,1449.9 406.3,1446.9 412.1,1451.3 418.0,1455.7 423.8,1460.1 428.9,1462.3 434.0,1461.5 439.9,1458.6 445.7,1457.9 451.5,1457.2 456.6,1452.0 461.8,1449.9 466.9,1446.9 470.0,1443.9 472.9,1442.9 478.0,1449.1 483.1,1459.3 489.7,1464.4 494.8,1452.7 500.7,1436.6 505.8,1437.4 510.9,1447.6 516.0,1455.6 521.1,1458.5 526.2,1466.6 531.3,1475.3 536.4,1482.6 542.3,1486.3 548.1,1487.0 553.2,1487.7 558.3,1492.8 560.0,1497.3 565.5,1501.2 571.0,1502.8 577.3,1499.6 583.6,1498.0 589.2,1496.5 594.7,1494.9 600.2,1495.4 605.7,1497.3 612.0,1499.6 618.3,1498.0 624.6,1497.3 630.2,1497.3 635.7,1498.8 642.0,1500.4 647.5,1503.6 653.0,1506.7 659.3,1509.1 665.6,1509.9"/>
<polyline stroke="#FFC000" points="115.5,1514.7 120.9,1497.2 126.1,1491.4 131.9,1495.0 137.7,1498.4 142.8,1497.2 148.0,1490.7 153.8,1485.5 159.6,1481.2 164.7,1479.0 169.9,1476.1 175.7,1468.8 181.5,1460.0 186.6,1455.6 191.8,1452.0 196.9,1443.9 203.6,1429.4 208.8,1428.4 213.9,1436.0 219.0,1444.0 225.5,1446.9 230.7,1439.6 235.8,1430.9 241.6,1433.1 247.4,1426.5 253.3,1422.1 258.4,1422.8 264.2,1424.3 270.1,1421.4 275.2,1426.5 281.0,1429.9 286.1,1432.3 290.0,1432.3 295.8,1432.3 302.4,1431.6 307.5,1433.1 312.6,1436.7 317.7,1438.2 323.6,1440.4 329.4,1445.5 334.5,1448.0 340.4,1449.1 345.5,1452.0 351.3,1457.9 357.2,1458.6 363.0,1461.1 368.8,1460.8 373.9,1460.1 379.5,1464.5 385.1,1470.3 390.2,1471.0 396.1,1469.6 401.9,1470.7 407.0,1467.4 411.4,1444.7 416.5,1408.2 419.4,1380.5 423.1,1355.7 428.9,1343.3 434.7,1357.2 439.1,1395.1 444.2,1426.5 450.1,1419.2 455.9,1411.9 461.0,1437.4 466.1,1452.8 470.0,1468.0 474.4,1474.6 478.8,1477.5 483.9,1476.8 489.7,1474.6 494.8,1466.6 499.9,1457.1 505.0,1441.0 510.9,1439.6 515.3,1454.9 520.4,1476.8 524.7,1488.5 529.9,1492.1 537.2,1489.2 543.0,1492.8 548.8,1497.2 553.2,1498.7 557.6,1498.7 560.0,1494.1 564.7,1488.6 571.0,1486.2 575.8,1489.4 580.5,1495.7 586.0,1499.6 591.5,1501.2 597.8,1502.0 604.1,1502.0 609.7,1503.6 615.2,1505.9 621.5,1506.4 627.8,1503.6 633.3,1502.0 638.8,1501.2 643.6,1498.8 648.3,1498.0 654.6,1500.4 660.9,1504.3 665.6,1506.7"/>
<polyline stroke="#ED7D31" points="115.5,1535.2 120.2,1494.3 125.3,1481.2 131.2,1475.3 137.7,1469.2 142.8,1469.2 148.0,1478.0 153.8,1473.6 158.9,1457.1 164.7,1449.8 170.6,1442.5 175.7,1429.3 181.5,1427.4 187.4,1427.2 192.5,1425.0 197.6,1419.1 202.9,1401.7 208.8,1402.4 214.6,1419.9 220.4,1406.8 224.8,1387.8 230.7,1385.6 235.8,1382.3 241.6,1387.1 246.7,1408.2 253.3,1413.4 258.4,1400.9 263.5,1390.7 269.3,1389.3 274.5,1389.6 280.3,1392.2 285.4,1365.9 287.6,1348.4 290.0,1318.5 296.6,1306.1 300.9,1352.8 304.6,1383.4 308.2,1410.4 312.6,1421.4 317.7,1419.9 323.6,1423.6 329.4,1425.0 333.8,1403.9 339.6,1374.7 345.5,1364.5 351.6,1347.7 356.4,1373.2 360.8,1403.9 364.5,1428.7 368.1,1446.9 373.9,1450.6 379.5,1452.0 385.1,1460.1 390.2,1468.1 396.1,1464.5 401.9,1460.8 407.0,1459.3 412.1,1460.5 418.0,1459.6 423.8,1460.1 428.9,1455.7 434.0,1452.0 439.1,1455.7 444.2,1456.1 450.1,1457.2 455.9,1463.0 461.8,1463.7 467.6,1464.5 470.0,1465.1 474.4,1467.7 478.8,1465.1 483.9,1463.9 489.0,1467.3 494.1,1471.7 499.9,1476.1 505.0,1474.6 510.9,1475.3 516.0,1481.2 521.1,1487.0 526.9,1493.6 532.8,1495.0 537.9,1494.0 543.0,1496.5 548.8,1500.9 554.7,1503.8 560.0,1505.1 565.5,1505.1 571.0,1501.2 576.6,1498.8 582.1,1499.6 587.6,1499.6 593.1,1497.3 599.4,1495.7 604.9,1497.6 610.4,1501.2 616.8,1504.3 622.3,1505.1 627.8,1504.3 633.3,1505.9 638.8,1504.3 643.6,1500.4 649.1,1500.4 654.6,1502.8 660.9,1505.9 665.6,1509.5"/>
<polyline stroke="#5B9BD5" points="115.5,1529.3 120.2,1495.8 126.1,1480.4 131.2,1482.6 137.7,1489.9 142.8,1491.4 148.0,1492.1 153.8,1489.2 159.6,1485.5 164.7,1483.4 170.6,1480.4 175.7,1473.1 181.5,1468.8 187.4,1465.1 192.5,1462.2 197.6,1458.5 203.6,1449.1 208.8,1451.3 214.6,1446.9 219.7,1436.7 225.5,1427.2 231.4,1425.8 236.5,1426.1 242.3,1425.0 248.2,1419.2 253.3,1406.8 258.4,1402.4 264.2,1414.1 269.3,1419.2 274.5,1409.7 279.6,1398.8 286.1,1391.5 290.0,1398.8 296.6,1411.2 301.7,1406.1 307.5,1409.7 313.4,1420.7 319.2,1422.1 324.3,1409.7 330.1,1402.1 336.0,1407.5 341.1,1417.0 346.2,1431.6 351.3,1446.2 357.2,1445.9 362.3,1442.6 368.1,1438.9 373.9,1439.6 379.5,1439.1 385.1,1441.1 390.2,1445.5 396.1,1452.0 401.9,1446.9 407.0,1441.8 412.1,1440.4 417.2,1412.6 423.1,1376.1 428.9,1374.4 434.0,1415.5 438.4,1456.4 445.0,1465.9 450.1,1453.5 455.9,1438.9 461.0,1439.2 466.9,1445.5 470.0,1450.5 473.6,1456.4 478.8,1458.1 483.9,1451.2 489.7,1453.4 494.8,1457.1 499.9,1455.6 505.0,1454.2 510.9,1452.0 516.0,1457.8 521.8,1465.8 527.7,1467.7 532.8,1465.8 538.6,1461.5 543.7,1468.0 548.8,1478.2 553.9,1489.2 559.5,1496.5 565.5,1497.3 571.0,1491.7 576.6,1486.2 582.9,1488.6 588.4,1494.1 593.9,1498.0 599.4,1498.0 605.7,1498.0 612.0,1500.4 618.3,1502.8 624.6,1502.8 630.9,1500.4 637.3,1498.0 642.8,1502.0 648.3,1505.9 653.8,1505.9 659.3,1499.6 665.6,1494.9"/>
</g>
<text x="358.9" y="1616.1" textLength="90.2" lengthAdjust="spacingAndGlyphs">time [%]</text>
<text x="226.2" y="1640.0" style="font-size:32px">(d)</text>
<text x="265.7" y="1639.6">Left semimembranosus muscle</text>
<circle cx="146.3" cy="1644.5" r="5.4" fill="#F7CBAA"/>
<path fill="#F7CBAA" d="M144.6,1649 C142.6,1655 142.3,1665 142.4,1678 C142.5,1690 143.6,1700 143.6,1710 L143.9,1720.3 L139.5,1720.3 C137.8,1720.6 137.6,1723 139.3,1723 L149.3,1723 C149.4,1715 149.4,1705 149.8,1697 C150.3,1690 151.9,1684 151.4,1679 C150.9,1674 150.9,1665 150.6,1657 C150.3,1652 149.5,1649 147.6,1648.6 Z"/>
<rect x="152.3" y="1704.7" width="19.9" height="5" fill="#000"/><rect x="152.5" y="1709" width="3" height="18" fill="#000"/><rect x="169.0" y="1709" width="3" height="18" fill="#000"/><rect x="152.3" y="1724" width="19.9" height="3" fill="#000"/>
<rect x="129.4" y="1723.2" width="24.1" height="1.6" fill="#8a8a8a"/><rect x="130.9" y="1724.6" width="21.1" height="2.4" fill="#000"/>
<circle cx="364" cy="1653.4" r="5.3" fill="#F7CBAA"/>
<path fill="#F7CBAA" d="M365.6,1658.5 C366.3,1664 368.5,1668 371.1,1672.3 L375.1,1679.5 L378.8,1686.3 L368.9,1700.8 C367.7,1702.3 367.7,1704 368.6,1705.2 L373.1,1720.4 L369.6,1720.6 C367.9,1720.9 367.9,1723.2 369.6,1723.2 L378.7,1723.2 C378.6,1716 377,1709 374.3,1703.6 L384.6,1689.3 C386.6,1686.3 386.2,1682.4 383.9,1679.6 L379.9,1672.3 L375.9,1665.9 C374.5,1662 373,1659.5 371.1,1657.9 Z"/>
<rect x="382.7" y="1704.7" width="19.3" height="5" fill="#000"/><rect x="382.9" y="1709" width="3" height="18" fill="#000"/><rect x="398.8" y="1709" width="3" height="18" fill="#000"/><rect x="382.7" y="1724" width="19.3" height="3" fill="#000"/>
<rect x="359.4" y="1723.2" width="24.4" height="1.6" fill="#8a8a8a"/><rect x="360.9" y="1724.6" width="21.4" height="2.4" fill="#000"/>
<circle cx="621.7" cy="1665.4" r="5.4" fill="#F7CBAA"/>
<path fill="#F7CBAA" d="M619.6,1669.5 C618,1676 617.6,1685 617.6,1698.8 L603.5,1698.8 C601.5,1699 601,1701 601.5,1703 L602.3,1720.7 L598,1720.9 C596.3,1721.2 596.3,1722.9 598,1722.9 L606.3,1722.9 C606.3,1716 606.6,1709 607,1704.4 L625,1704.4 C627.5,1704 627.5,1700 626.8,1697 C626.6,1688 626.2,1678 624.8,1670.5 C624,1668.5 620.5,1668.5 619.6,1669.5 Z"/>
<rect x="610.3" y="1704.7" width="19.7" height="5" fill="#000"/><rect x="610.5" y="1709" width="3" height="18" fill="#000"/><rect x="626.8" y="1709" width="3" height="18" fill="#000"/><rect x="610.3" y="1724" width="19.7" height="3" fill="#000"/>
<rect x="587" y="1723.2" width="23.7" height="1.6" fill="#8a8a8a"/><rect x="588.5" y="1724.6" width="20.7" height="2.4" fill="#000"/>
</svg>
</body></html>
